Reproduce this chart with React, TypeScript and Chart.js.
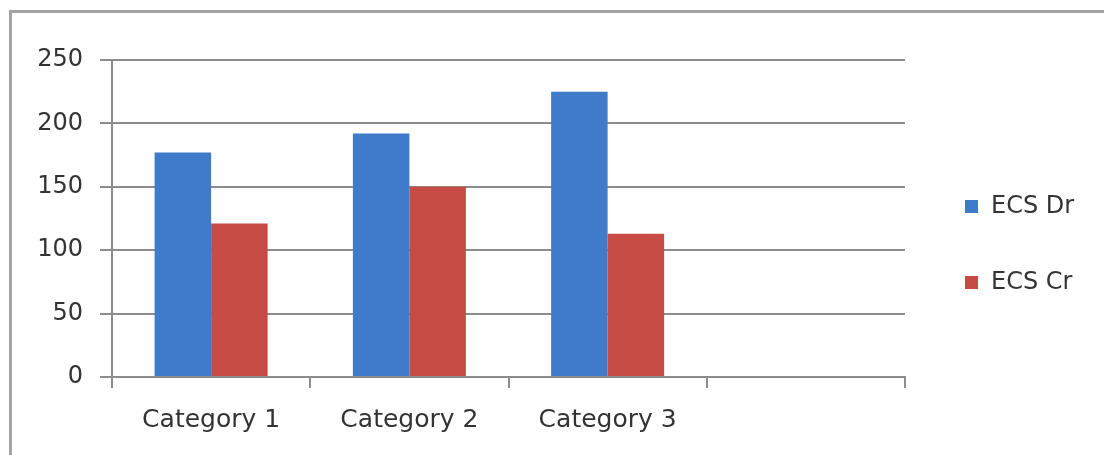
import React, { useEffect, useRef } from "react";
import { Chart, registerables } from "chart.js";

Chart.register(...registerables);

const categories = ["Category 1", "Category 2", "Category 3", ""];
const ecsDr = [177, 192, 225, null];
const ecsCr = [121, 150, 113, null];
const yTickValues = [0, 50, 100, 150, 200, 250];
const seriesNames = ["ECS Dr", "ECS Cr"];
const seriesColors = ["#3F7BC8", "#C64B45"];

const FONT = "'DejaVu Sans', sans-serif";
const TEXT_COLOR = "#333333";
const GRID_COLOR = "#8c8c8c";

const legendPlugin = {
  id: "sideLegend",
  afterDraw(chart: any) {
    const ctx = chart.ctx;
    const ys = [207, 283];
    ctx.save();
    ctx.font = `24px ${FONT}`;
    ctx.textBaseline = "middle";
    ctx.textAlign = "left";
    chart.data.datasets.forEach((ds: any, i: number) => {
      const y = ys[i];
      ctx.fillStyle = ds.backgroundColor;
      ctx.fillRect(965, y - 7, 13, 13);
      ctx.fillStyle = TEXT_COLOR;
      ctx.fillText(ds.label, 991, y);
    });
    ctx.restore();
  },
};

export default function App() {
  const canvasRef = useRef<HTMLCanvasElement | null>(null);

  useEffect(() => {
    document.body.style.margin = "0";
    const canvas = canvasRef.current;
    if (!canvas) return;
    const chart = new Chart(canvas, {
      type: "bar",
      data: {
        labels: categories,
        datasets: [
          {
            label: seriesNames[0],
            data: ecsDr,
            backgroundColor: seriesColors[0],
            borderWidth: 0,
          },
          {
            label: seriesNames[1],
            data: ecsCr,
            backgroundColor: seriesColors[1],
            borderWidth: 0,
          },
        ],
      },
      options: {
        animation: false,
        responsive: false,
        maintainAspectRatio: false,
        layout: { padding: { top: 60, right: 199, left: 0, bottom: 0 } },
        datasets: {
          bar: { barPercentage: 1, categoryPercentage: 0.57 },
        },
        plugins: {
          legend: { display: false },
          tooltip: { enabled: false },
        },
        scales: {
          x: {
            offset: true,
            grid: {
              offset: true,
              drawOnChartArea: false,
              drawTicks: true,
              tickLength: 11,
              color: GRID_COLOR,
              lineWidth: 2,
            },
            border: { display: true, color: GRID_COLOR, width: 2 },
            ticks: {
              padding: 17,
              color: TEXT_COLOR,
              font: { family: FONT, size: 25 },
              maxRotation: 0,
              autoSkip: false,
            },
            afterFit(scale: any) {
              scale.height = 78;
            },
          },
          y: {
            min: 0,
            max: 250,
            afterBuildTicks(scale: any) {
              scale.ticks = yTickValues.map((v) => ({ value: v }));
            },
            grid: {
              color: GRID_COLOR,
              lineWidth: 2,
              drawTicks: true,
              tickLength: 12,
            },
            border: { display: true, color: GRID_COLOR, width: 2 },
            ticks: {
              padding: 17,
              color: TEXT_COLOR,
              font: { family: FONT, size: 24 },
            },
            afterFit(scale: any) {
              scale.width = 112;
            },
          },
        },
      },
      plugins: [legendPlugin],
    });
    return () => chart.destroy();
  }, []);

  return (
    <div
      style={{
        position: "fixed",
        left: 0,
        top: 0,
        width: 1104,
        height: 455,
        background: "#ffffff",
        overflow: "hidden",
      }}
    >
      <div
        style={{
          position: "absolute",
          left: 9,
          top: 10,
          width: 1200,
          height: 600,
          borderTop: "3px solid #a3a3a3",
          borderLeft: "3px solid #a3a3a3",
        }}
      />
      <canvas
        ref={canvasRef}
        width={1104}
        height={455}
        style={{ position: "absolute", left: 0, top: 0, width: 1104, height: 455 }}
      />
    </div>
  );
}
